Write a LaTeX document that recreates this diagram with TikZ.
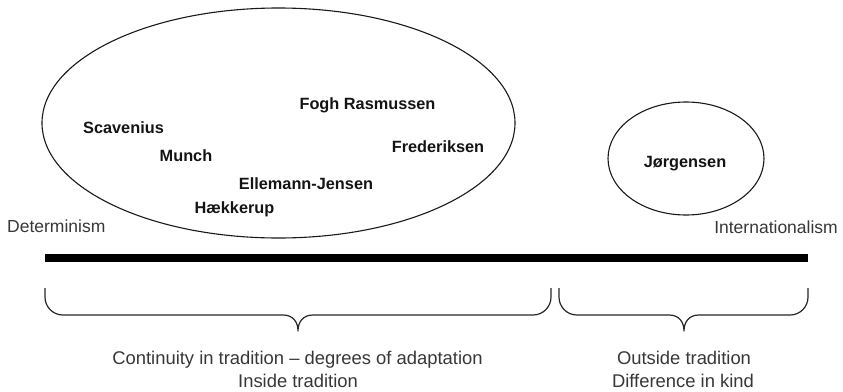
\documentclass[tikz,border=0pt]{standalone}
\usepackage{fontspec}
\setmainfont{Liberation Sans}
\usetikzlibrary{shapes.geometric}
\definecolor{labelgray}{RGB}{55,55,55}
\definecolor{namecol}{RGB}{20,20,20}
\begin{document}
\begin{tikzpicture}[x=1pt,y=-1pt,
  personname/.style={font=\fontsize{16.3}{19}\selectfont\bfseries, text=namecol, inner sep=0pt, anchor=base},
  lbl/.style={font=\fontsize{17.5}{21}\selectfont, text=labelgray, inner sep=0pt, anchor=base},
  bottomlbl/.style={lbl, font=\fontsize{18.4}{22}\selectfont},
  oval/.style={draw, ellipse, line width=1.1pt, inner sep=0pt, color=black!90},
  bracepath/.style={draw, line width=1.2pt, line join=round, color=black!85}]
\useasboundingbox (0,0) rectangle (843,391);
% ellipses
\node[oval, minimum width=473pt, minimum height=230pt] (big) at (278.5,123) {};
\node[oval, minimum width=156pt, minimum height=113pt] (small) at (686,158.5) {};
% names
\node[personname] (fogh) at (367.5,109.3) {Fogh Rasmussen};
\node[personname] (scav) at (123.5,133.3) {Scavenius};
\node[personname] (fred) at (438,152.7) {Frederiksen};
\node[personname] (munch) at (186,161) {Munch};
\node[personname] (elle) at (306,189.3) {Ellemann-Jensen};
\node[personname] (haek) at (234.5,213) {Hækkerup};
\node[personname] (jorg) at (685,167) {Jørgensen};
% axis labels
\node[lbl, anchor=base west] (det) at (7,232) {Determinism};
\node[lbl, anchor=base east] (int) at (838,233) {Internationalism};
% axis
\coordinate (axL) at (45,258);
\coordinate (axR) at (808,258);
\draw[line width=8pt] (axL) -- (axR);
% braces
\draw[bracepath] (45,288) -- (45,297) .. controls (45,307) and (53,315) .. (63,315)
  -- (283,315) .. controls (293,315) and (298,322) .. (298,331)
  .. controls (298,322) and (303,315) .. (313,315)
  -- (533,315) .. controls (543,315) and (551,307) .. (551,297) -- (551,288);
\draw[bracepath] (559,288) -- (559,297) .. controls (559,307) and (567,315) .. (577,315)
  -- (669,315) .. controls (679,315) and (684,322) .. (684,331)
  .. controls (684,322) and (689,315) .. (699,315)
  -- (790,315) .. controls (800,315) and (808,307) .. (808,297) -- (808,288);
% bottom labels
\node[bottomlbl] (cont) at (297.5,364) {Continuity in tradition – degrees of adaptation};
\node[bottomlbl] (inside) at (298,387) {Inside tradition};
\node[bottomlbl] (outside) at (684,364) {Outside tradition};
\node[bottomlbl] (diff) at (683,387) {Difference in kind};
\end{tikzpicture}
\end{document}
